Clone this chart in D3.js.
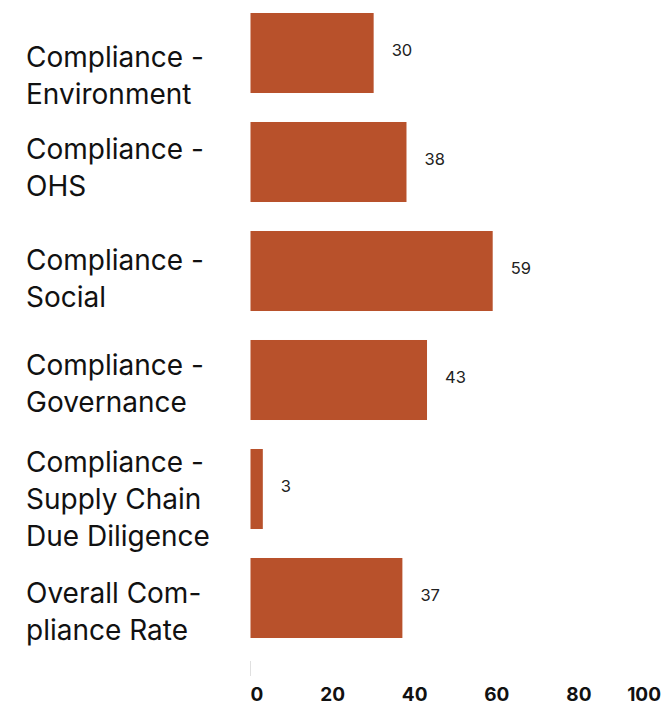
<!DOCTYPE html>
<html>
<head>
<meta charset="utf-8">
<script src="https://cdn.jsdelivr.net/npm/d3@7"></script>
<style>
  html, body { margin: 0; padding: 0; background: #fff; }
  svg { display: block; font-family: Inter, "Noto Sans", sans-serif; }
</style>
</head>
<body>
<svg id="chart" width="663" height="705"></svg>
<script>
// Category labels (line breaks as displayed)
const categories = [
  "Compliance -\nEnvironment",
  "Compliance -\nOHS",
  "Compliance -\nSocial",
  "Compliance -\nGovernance",
  "Compliance -\nSupply Chain\nDue Diligence",
  "Overall Com-\npliance Rate"
];
// Compliance rates (%)
const values = [30, 38, 59, 43, 3, 37];
// Axis ticks
const tickValues = [0, 20, 40, 60, 80, 100];
const tickLabels = ["0", "20", "40", "60", "80", "100"];

const barColor = "#b8512b";
const svg = d3.select("#chart");

const x = d3.scaleLinear().domain([0, 100]).range([250.5, 661]);
const y = d3.scaleBand()
  .domain(categories)
  .range([-1.5, 652.5])
  .paddingInner(0.266)
  .paddingOuter(0.133);

// Bars
svg.append("g").selectAll("rect")
  .data(values)
  .join("rect")
  .attr("x", x(0))
  .attr("y", (d, i) => y(categories[i]))
  .attr("width", d => x(d) - x(0))
  .attr("height", y.bandwidth())
  .attr("fill", barColor);

// Value labels
svg.append("g").selectAll("text")
  .data(values)
  .join("text")
  .attr("x", d => x(d) + 18)
  .attr("y", (d, i) => y(categories[i]) + y.bandwidth() / 2 - 3)
  .attr("dominant-baseline", "central")
  .attr("font-size", 16.5)
  .attr("fill", "#222")
  .text(d => d);

// Category labels, left aligned, wrapped on explicit breaks
const lineGap = 37;
const labelShift = [22, 4.5, 6.5, 2.5, 9, 12.5];
const capHalf = 10.5;
const labels = svg.append("g").attr("font-size", 28).attr("fill", "#111");
categories.forEach((c, i) => {
  const lines = c.split("\n");
  const mid = y(c) + y.bandwidth() / 2 + labelShift[i];
  const first = mid - (lines.length - 1) * lineGap / 2 + capHalf;
  const t = labels.append("text").attr("x", 26);
  lines.forEach((ln, j) => {
    t.append("tspan").attr("x", 26).attr("y", first + j * lineGap).text(ln);
  });
});

// X axis: tick at zero and bold labels
const axis = svg.append("g");
axis.append("line")
  .attr("x1", x(0)).attr("x2", x(0))
  .attr("y1", 661).attr("y2", 676)
  .attr("stroke", "#e0e0e0").attr("stroke-width", 1);
axis.selectAll("text")
  .data(tickValues)
  .join("text")
  .attr("x", d => x(d))
  .attr("y", 701)
  .attr("text-anchor", (d, i) => i === 0 ? "start" : (i === tickValues.length - 1 ? "end" : "middle"))
  .attr("font-size", 19)
  .attr("font-weight", 700)
  .attr("fill", "#111")
  .text((d, i) => tickLabels[i]);
</script>
</body>
</html>
